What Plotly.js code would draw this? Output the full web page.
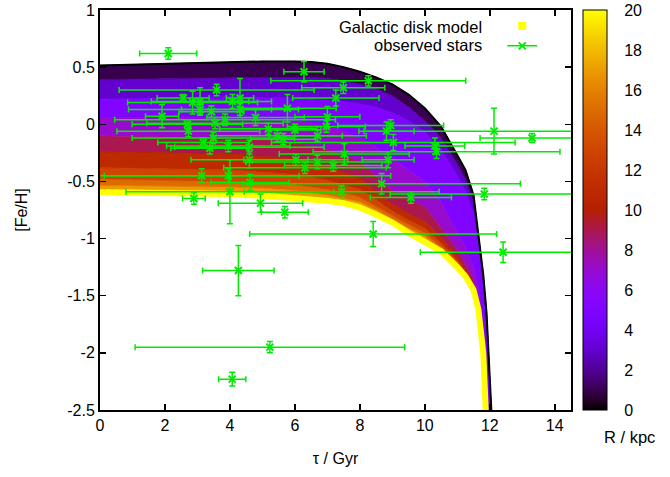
<!DOCTYPE html>
<html><head><meta charset="utf-8">
<script src="https://cdn.plot.ly/plotly-3.0.1.min.js"></script>
<style>html,body{margin:0;padding:0;background:#fff}#chart{width:670px;height:477px}</style>
</head><body><div id="chart"></div>
<script>
// ---- model: [Fe/H] vs age tau for several galactocentric radii ----
const modelTau = [0, 2, 4, 5, 6, 6.5, 7, 7.5, 8, 8.5, 9, 9.5, 10, 10.5, 11, 11.25, 11.5, 11.65, 11.8, 11.9, 12.0, 12.1];
const modelRadii = [0, 2, 4, 6, 8, 10, 12, 14, 16, 18, 20];
const feR0  = [0.515,0.53,0.545,0.55,0.55,0.545,0.53,0.50,0.46,0.41,0.35,0.26,0.14,-0.02,-0.27,-0.40,-0.62,-0.95,-1.32,-1.65,-2.15,-2.8];
const feR2  = [0.39,0.40,0.41,0.41,0.41,0.41,0.40,0.38,0.35,0.31,0.25,0.15,0.03,-0.12,-0.35,-0.48,-0.68,-1.0,-1.38,-1.72,-2.25,-2.9];
const feR4  = [0.22,0.23,0.24,0.235,0.23,0.22,0.21,0.20,0.18,0.15,0.10,0.03,-0.07,-0.22,-0.45,-0.58,-0.78,-1.08,-1.45,-1.82,-2.4,-3.0];
const feR6  = [0.06,0.06,0.05,0.045,0.03,0.01,-0.02,-0.06,-0.12,-0.20,-0.30,-0.40,-0.50,-0.68,-0.95,-1.08,-1.25,-1.45,-1.8,-2.3,-2.9,-3.6];
const feR8  = [-0.10,-0.11,-0.12,-0.13,-0.16,-0.19,-0.22,-0.27,-0.33,-0.45,-0.58,-0.65,-0.72,-0.90,-1.10,-1.22,-1.36,-1.54,-1.9,-2.45,-3.1,-3.8];
const feR10 = [-0.24,-0.25,-0.26,-0.28,-0.30,-0.33,-0.37,-0.42,-0.47,-0.59,-0.70,-0.78,-0.85,-0.99,-1.16,-1.27,-1.40,-1.57,-1.94,-2.52,-3.2,-3.9];
const feR12 = [-0.38,-0.39,-0.40,-0.42,-0.44,-0.46,-0.49,-0.53,-0.57,-0.66,-0.76,-0.84,-0.91,-1.04,-1.19,-1.30,-1.41,-1.59,-1.96,-2.55,-3.25,-3.95];
const feR14 = [-0.48,-0.49,-0.50,-0.51,-0.53,-0.55,-0.57,-0.60,-0.64,-0.72,-0.80,-0.88,-0.95,-1.07,-1.21,-1.31,-1.42,-1.60,-1.97,-2.57,-3.25,-3.95];
const feR16 = [-0.535,-0.54,-0.55,-0.56,-0.58,-0.60,-0.62,-0.65,-0.68,-0.75,-0.83,-0.91,-0.98,-1.09,-1.23,-1.32,-1.43,-1.61,-1.98,-2.58,-3.25,-3.95];
const feR18 = [-0.57,-0.575,-0.585,-0.60,-0.62,-0.635,-0.65,-0.67,-0.70,-0.77,-0.845,-0.93,-1.00,-1.10,-1.24,-1.325,-1.44,-1.615,-1.99,-2.59,-3.25,-3.95];
const feR20 = [-0.595,-0.60,-0.61,-0.625,-0.645,-0.655,-0.67,-0.69,-0.73,-0.79,-0.86,-0.95,-1.03,-1.11,-1.25,-1.33,-1.45,-1.62,-2.0,-2.6,-3.3,-4.0];
const modelFe = [feR0, feR2, feR4, feR6, feR8, feR10, feR12, feR14, feR16, feR18, feR20];

// ---- observed stars ----
const starTau    = [2.10,6.28,3.59,8.26,7.49,7.26,5.77,7.0,8.95,8.82,9.03,10.31,10.36,12.13,13.3,1.91,2.56,3.08,4.31,4.08,2.85,3.08,3.43,3.85,3.54,4.31,4.79,2.69,2.72,3.49,3.18,3.38,3.95,4.6,4.6,3.13,3.95,4.62,4.0,2.89,4.94,5.69,4.26,5.23,4.07,8.41,12.41,7.44,8.67,9.57,11.83,5.18,5.46,5.64,6.0,6.7,6.97,7.52,6.03,6.69,7.18,6.31,8.87];
const starFe     = [0.62,0.46,0.30,0.38,0.32,0.23,0.14,0.065,-0.01,-0.06,-0.16,-0.19,-0.24,-0.06,-0.12,0.07,0.23,0.20,0.23,0.20,0.19,0.13,0.11,0.04,0.01,0.13,0.06,0.0,-0.06,-0.12,-0.16,-0.21,-0.19,-0.2,-0.31,-0.45,-0.45,-0.51,-0.59,-0.65,-0.69,-0.77,-1.28,-1.95,-2.23,-0.96,-1.12,-0.59,-0.52,-0.64,-0.61,-0.04,-0.1,-0.13,-0.05,-0.1,-0.02,-0.26,-0.31,-0.33,-0.36,-0.38,-0.31];
const starTauErr = [0.88,0.62,3.0,3.0,1.28,1.33,1.5,1.0,1.63,0.85,3.75,0.92,3.8,4.0,1.6,0.51,0.8,1.5,0.42,1.2,2.0,2.2,1.0,3.4,2.1,1.8,1.5,1.7,2.2,2.5,1.4,1.2,1.9,2.3,1.8,3.0,5.0,1.2,3.2,0.35,1.3,0.72,1.1,4.15,0.42,3.8,2.55,3.0,4.27,1.25,2.9,1.5,2.0,1.0,0.8,1.5,1.2,2.0,1.6,2.2,1.5,2.5,0.8];
const starFeErr  = [0.05,0.09,0.05,0.045,0.05,0.07,0.12,0.09,0.05,0.08,0.07,0.07,0.06,0.2,0.04,0.1,0.03,0.12,0.17,0.06,0.1,0.04,0.05,0.05,0.05,0.05,0.07,0.04,0.05,0.05,0.04,0.05,0.05,0.06,0.07,0.06,0.06,0.07,0.28,0.05,0.08,0.05,0.22,0.05,0.06,0.11,0.09,0.05,0.09,0.05,0.05,0.05,0.05,0.05,0.05,0.05,0.05,0.09,0.05,0.06,0.05,0.05,0.07];

const cbTicks = [0, 2, 4, 6, 8, 10, 12, 14, 16, 18, 20];
const xTicks = [0, 2, 4, 6, 8, 10, 12, 14];
const yTicks = [-2.5, -2, -1.5, -1, -0.5, 0, 0.5, 1];

// gnuplot default pm3d palette (rgbformulae 7,5,15)
function pal(x) {
  const cl = v => Math.max(0, Math.min(1, v));
  const r = cl(Math.sqrt(x)), g = cl(x * x * x), b = cl(Math.sin(2 * Math.PI * x));
  return 'rgb(' + Math.round(r * 255) + ',' + Math.round(g * 255) + ',' + Math.round(b * 255) + ')';
}
const cscale = [];
for (let i = 0; i <= 40; i++) cscale.push([i / 40, pal(i / 40)]);
const RMAX = 20;

const traces = [];
modelRadii.forEach((R, i) => {
  const t = {
    x: modelTau, y: modelFe[i], type: 'scatter', mode: 'lines',
    line: {width: 1, color: pal(R / RMAX)},
    showlegend: false, hoverinfo: 'skip'
  };
  if (i > 0) {
    t.fill = 'tonexty';
    t.fillcolor = pal((modelRadii[i - 1] + R) / 2 / RMAX);
  }
  traces.push(t);
});
// edge curves drawn on top
traces.push({x: modelTau, y: feR20, type: 'scatter', mode: 'lines',
  line: {width: 6, color: pal(1)}, showlegend: false, hoverinfo: 'skip'});
traces.push({x: modelTau, y: feR0, type: 'scatter', mode: 'lines',
  line: {width: 2, color: pal(0)}, showlegend: false, hoverinfo: 'skip'});

// plot geometry (paper starts 2px from top so the legend stays inside it)
const domTop = 400 / 408;

// colorbar carrier
traces.push({x: [null], y: [null], type: 'scatter', mode: 'markers', showlegend: false,
  marker: {color: [0], cmin: 0, cmax: 20, colorscale: cscale, showscale: true,
    colorbar: {x: 1.0255, xanchor: 'left', y: domTop / 2, yanchor: 'middle', len: domTop, lenmode: 'fraction',
      thickness: 24, outlinewidth: 1, outlinecolor: '#000', tickvals: cbTicks, ticks: 'outside', ticklen: 14,
      tickcolor: 'rgba(0,0,0,0)', tickfont: {size: 16, color: '#000'}, xpad: 0, ypad: 0}}});

const green = 'rgb(0,235,0)';
traces.push({x: starTau, y: starFe, type: 'scatter', mode: 'markers', showlegend: false,
  marker: {symbol: 'x-thin-open', size: 7, color: green, line: {color: green, width: 2}},
  error_x: {type: 'data', array: starTauErr, symmetric: true, color: green, thickness: 1.5, width: 3},
  error_y: {type: 'data', array: starFeErr, symmetric: true, color: green, thickness: 1.5, width: 3}});

// legend symbols
traces.push({x: [null], y: [null], type: 'scatter', mode: 'markers', name: ' ',
  marker: {symbol: 'square', size: 8, color: pal(1)}});
traces.push({x: [null], y: [null], type: 'scatter', mode: 'lines+markers', name: ' ',
  line: {color: green, width: 1.5}, marker: {symbol: 'x-thin-open', size: 7, color: green, line: {color: green, width: 2}}});

const font = 'Liberation Sans, Arial, sans-serif';
const py = px => 1 - (px - 2) / 408;
const layout = {
  width: 670, height: 477,
  margin: {l: 100, r: 99, t: 2, b: 67},
  paper_bgcolor: '#fff', plot_bgcolor: '#fff',
  font: {family: font, size: 16, color: '#000'},
  xaxis: {range: [0, 14.5], tickvals: xTicks, ticks: 'inside', ticklen: 6, tickwidth: 1.5, tickcolor: '#000',
    mirror: 'ticks', showline: true, linewidth: 2, linecolor: '#000', showgrid: false, zeroline: false,
    tickfont: {size: 16}, title: {text: 'τ / Gyr', font: {size: 16}, standoff: 20}},
  yaxis: {domain: [0, domTop], range: [-2.5, 1], tickvals: yTicks, ticktext: yTicks.map(v => String(v)), ticks: 'inside', ticklen: 6,
    tickwidth: 1.5, tickcolor: '#000', mirror: 'ticks', showline: true, linewidth: 2, linecolor: '#000',
    showgrid: false, zeroline: false, tickfont: {size: 16}, title: {text: '[Fe/H]', font: {size: 16}, standoff: 36}},
  showlegend: true,
  legend: {x: 0.854, xanchor: 'left', y: py(11), yanchor: 'top', bgcolor: 'rgba(0,0,0,0)', traceorder: 'normal',
    font: {size: 13}, tracegroupgap: 0, itemwidth: 30},
  annotations: [
    {xref: 'paper', yref: 'paper', x: 0.815, y: py(27), xanchor: 'right', yanchor: 'middle', showarrow: false,
      text: 'Galactic disk model', font: {size: 16.5}},
    {xref: 'paper', yref: 'paper', x: 0.815, y: py(45), xanchor: 'right', yanchor: 'middle', showarrow: false,
      text: 'observed stars', font: {size: 16.5}},
    {xref: 'paper', yref: 'paper', x: 1.125, y: py(437), xanchor: 'center', yanchor: 'middle', showarrow: false,
      text: 'R / kpc', font: {size: 16.5}}
  ]
};
Plotly.newPlot('chart', traces, layout, {displayModeBar: false, staticPlot: true});
</script></body></html>
